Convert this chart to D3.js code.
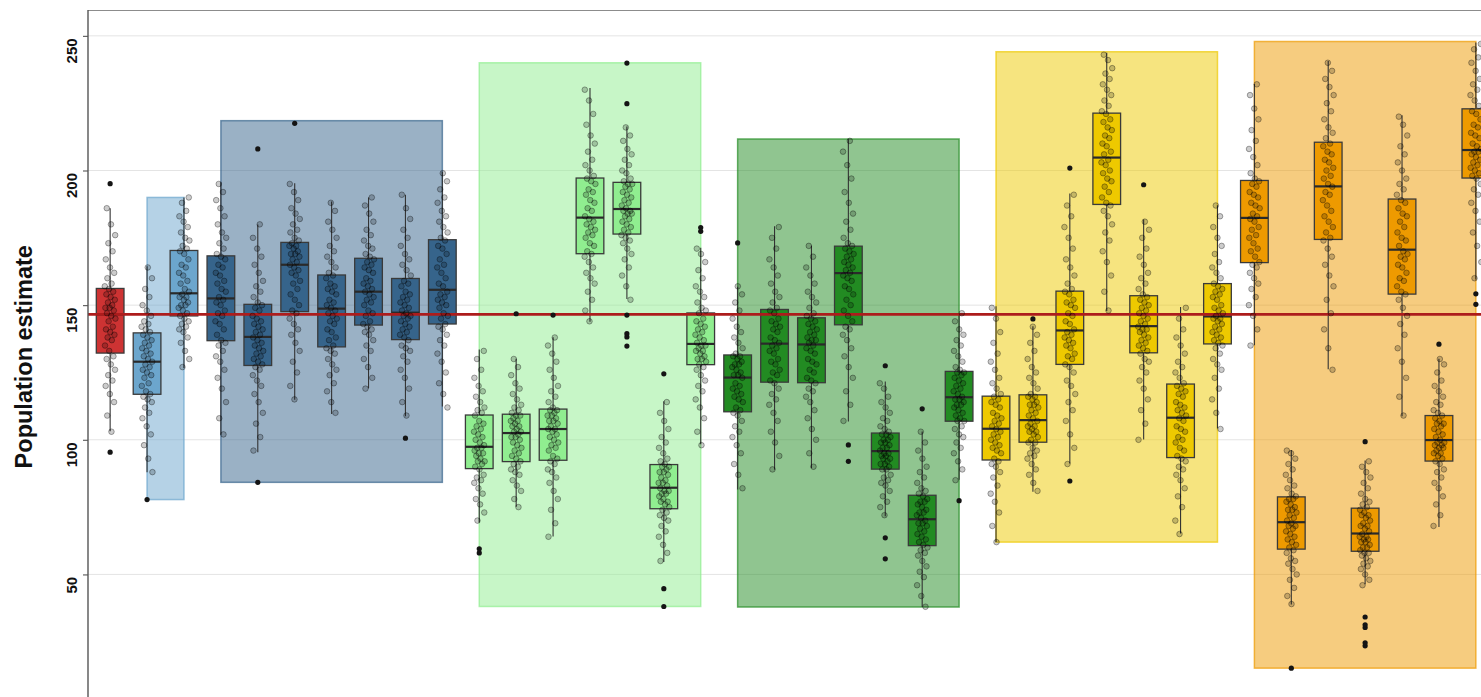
<!DOCTYPE html>
<html>
<head>
<meta charset="utf-8">
<script src="https://cdn.jsdelivr.net/npm/d3@7"></script>
<style>
  html, body { margin: 0; padding: 0; background: #fff; overflow: hidden; }
  svg { display: block; }
</style>
</head>
<body>
<svg id="chart" width="1481" height="697"></svg>
<script>
// ---- data -----------------------------------------------------------------
const categories = [
  "R",
  "LB1", "LB2",
  "DB1", "DB2", "DB3", "DB4", "DB5", "DB6", "DB7",
  "LG1", "LG2", "LG3", "LG4", "LG5", "LG6", "LG7",
  "DG1", "DG2", "DG3", "DG4", "DG5", "DG6", "DG7",
  "Y1", "Y2", "Y3", "Y4", "Y5", "Y6", "Y7",
  "O1", "O2", "O3", "O4", "O5", "O6", "O7"
];
const categoryGroup = [
  "ref",
  "lb", "lb",
  "db", "db", "db", "db", "db", "db", "db",
  "lg", "lg", "lg", "lg", "lg", "lg", "lg",
  "dg", "dg", "dg", "dg", "dg", "dg", "dg",
  "yl", "yl", "yl", "yl", "yl", "yl", "yl",
  "or", "or", "or", "or", "or", "or", "or"
];

// box statistics per category
const whiskerLow  = [103.2, 87.9, 126.7, 101.9, 95.4, 114.9, 109.6, 119.1, 108.7, 112.4,
                     69.3, 75.1, 64.1, 143.8, 152.3, 54.6, 98.3,
                     81.5, 88.9, 89.5, 106.8, 71.6, 37.9, 85.2,
                     62.0, 80.7, 91.2, 147.8, 100.1, 65.2, 104.2,
                     135.1, 38.8, 126.2, 46.4, 108.7, 67.6, 159.5];
const quartile1   = [132.2, 116.9, 146.0, 136.8, 127.6, 147.6, 134.5, 142.6, 137.2, 143.0,
                     89.3, 91.9, 92.4, 169.1, 176.4, 74.4, 127.9,
                     110.4, 121.4, 121.2, 142.7, 89.1, 60.7, 106.9,
                     92.5, 99.1, 128.0, 187.4, 132.3, 93.4, 135.6,
                     165.8, 59.4, 174.4, 58.6, 154.1, 92.1, 197.2];
const medians     = [146.6, 129.0, 154.4, 152.5, 138.2, 165.0, 148.7, 155.0, 147.2, 155.7,
                     97.4, 102.5, 104.0, 182.5, 185.7, 82.2, 135.6,
                     123.1, 135.7, 135.4, 161.9, 95.8, 70.5, 115.8,
                     104.1, 107.3, 140.6, 204.8, 142.2, 108.2, 145.8,
                     182.4, 69.4, 194.1, 65.2, 170.6, 99.9, 207.6];
const quartile3   = [156.2, 139.7, 170.3, 168.3, 150.3, 173.3, 161.2, 167.4, 159.9, 174.3,
                     109.2, 109.5, 111.4, 197.2, 195.6, 90.8, 147.1,
                     131.5, 148.4, 145.3, 171.9, 102.5, 79.4, 125.4,
                     116.2, 116.7, 155.2, 221.3, 153.5, 120.7, 158.0,
                     196.3, 78.8, 210.5, 74.6, 189.4, 109.0, 222.9];
const whiskerHigh = [186.0, 164.4, 190.0, 195.6, 179.9, 195.3, 188.5, 190.0, 191.0, 199.5,
                     133.5, 130.1, 138.1, 230.6, 216.3, 114.3, 171.3,
                     156.8, 179.3, 172.1, 211.7, 121.6, 103.1, 146.9,
                     149.6, 142.2, 191.5, 243.7, 181.8, 149.3, 187.1,
                     232.1, 96.2, 240.7, 92.3, 220.5, 130.1, 247.5];
const outliers = [
  [95.4, 195.1],
  [77.8], [],
  [], [84.2, 208.0], [217.5], [], [], [100.6], [],
  [58.0, 59.5], [146.8], [146.3], [], [134.8, 138.2, 139.4, 146.3, 224.8, 239.9], [38.1, 44.7, 124.5], [177.4, 178.8],
  [173.1], [], [], [92.0, 98.1], [55.8, 63.6, 127.5], [111.5], [77.4],
  [], [144.9], [84.7, 200.9], [], [194.7], [], [],
  [], [15.2], [], [23.5, 24.6, 30.3, 31.3, 34.2, 99.3], [], [135.5], [150.3, 154.2]
];

// individual estimates per category
const observations = [
  [103,109,114,117,120,122,124,126,128,130,131,133,135,137,138,139,140,141,142,144,145,146,147,148,149,149,150,151,152,153,154,155,156,157,158,160,162,164,167,170,173,176,180,186],
  [88,93,98,102,105,108,110,112,114,115,116,117,118,120,121,123,124,125,126,127,128,129,130,131,132,133,134,135,136,137,138,139,140,141,142,143,144,146,148,150,153,156,160,164],
  [127,130,133,136,138,140,141,142,143,144,145,146,147,148,149,150,150,151,152,153,153,154,155,156,158,159,161,162,164,165,167,169,170,171,172,174,175,177,179,181,183,185,188,190],
  [102,108,114,119,123,126,129,131,133,135,136,137,139,141,143,144,146,147,148,150,151,152,153,155,156,158,159,161,162,164,165,167,168,169,171,173,175,177,180,183,186,189,192,195],
  [96,101,106,110,114,117,120,122,124,126,127,128,129,130,131,132,133,134,135,136,137,138,139,140,141,142,143,144,145,146,148,149,150,151,153,155,157,159,162,165,168,171,175,180],
  [115,120,125,129,133,136,139,141,143,145,147,148,150,152,154,156,158,159,161,162,163,164,165,166,167,168,169,169,170,171,172,172,173,174,175,177,178,180,182,184,186,189,192,195],
  [110,114,118,121,124,126,128,130,132,133,134,135,137,138,140,141,143,144,145,146,147,148,149,150,151,152,154,155,156,157,158,160,161,162,164,166,168,170,172,175,178,181,185,188],
  [119,123,127,130,133,135,137,139,140,141,142,143,144,146,147,148,150,151,152,153,154,155,156,157,158,159,160,162,163,164,165,166,167,168,169,171,172,174,176,178,181,184,187,190],
  [109,114,119,123,126,129,131,133,134,135,137,138,139,140,141,142,143,144,145,146,146,147,148,149,150,151,152,153,154,155,157,158,159,161,163,165,167,169,172,175,178,182,186,191],
  [112,117,121,125,129,132,135,137,139,141,142,143,145,146,147,149,150,151,152,153,154,155,157,158,160,162,164,165,167,169,171,172,174,175,177,179,181,183,185,188,190,193,196,199],
  [70,73,76,78,80,82,84,85,86,87,89,90,91,92,92,93,94,95,95,96,97,97,98,99,100,101,102,103,104,105,106,107,109,110,111,112,114,116,118,120,123,126,130,133],
  [75,78,81,83,85,87,88,89,90,91,92,93,94,95,96,97,98,99,100,101,101,102,103,103,104,105,105,106,107,107,108,109,109,110,111,112,113,115,117,119,121,124,127,130],
  [64,69,74,78,81,84,86,88,89,91,92,93,94,96,97,98,99,100,101,102,103,104,104,105,106,107,107,108,109,109,110,111,111,112,114,116,118,120,123,126,129,132,135,138],
  [144,148,152,155,158,160,162,164,166,168,169,170,172,173,175,176,177,178,179,180,181,182,183,185,186,188,189,191,192,193,195,196,197,198,200,202,204,207,210,213,217,221,226,230],
  [152,157,161,164,167,169,171,173,174,175,176,177,178,179,180,181,182,183,184,184,185,185,186,187,188,189,190,191,192,193,194,195,195,196,197,199,200,202,204,206,208,211,213,216],
  [55,58,61,64,66,68,70,71,72,73,74,75,76,77,77,78,79,80,80,81,81,82,83,84,84,85,86,87,88,88,89,90,90,91,92,93,95,97,99,101,104,107,110,114],
  [98,103,108,112,115,118,120,122,124,126,127,128,129,130,130,131,132,133,133,134,135,135,136,137,138,139,140,141,142,143,144,145,147,148,149,151,153,155,157,160,163,166,169,171],
  [82,87,91,95,98,101,103,105,107,109,110,111,112,114,115,116,117,118,119,120,121,123,124,124,125,126,127,128,128,129,130,131,131,132,134,136,138,140,142,145,148,151,154,157],
  [89,94,99,103,107,110,113,115,117,119,121,122,124,125,126,128,129,130,132,133,134,135,136,137,138,140,141,142,143,144,145,147,148,149,151,153,155,158,161,164,167,171,175,179],
  [90,95,100,104,108,111,114,116,118,119,121,122,123,125,126,128,129,130,132,133,134,135,136,137,137,138,139,140,141,142,143,144,145,146,147,149,151,153,155,158,161,164,168,172],
  [107,113,118,123,127,131,134,137,139,141,142,144,146,148,150,152,154,156,157,159,160,161,162,163,164,165,166,167,168,169,170,171,172,173,175,178,181,184,188,192,197,202,207,211],
  [72,75,77,79,81,83,84,85,86,87,89,89,90,91,91,92,93,93,94,94,95,95,96,97,97,98,99,99,100,100,101,102,102,103,104,105,107,108,110,112,114,116,119,121],
  [38,42,46,49,51,53,55,57,58,59,60,61,62,63,64,65,66,67,68,69,69,70,71,72,73,73,74,75,76,77,77,78,79,80,81,82,84,86,88,90,93,96,99,103],
  [85,89,92,95,97,99,101,102,104,105,107,107,108,109,110,111,112,113,113,114,115,115,116,117,118,119,120,121,122,123,124,125,125,126,127,129,131,133,135,137,139,141,144,147],
  [62,68,73,77,80,83,86,88,90,91,92,93,95,96,97,98,99,100,101,102,103,104,105,106,107,108,109,110,112,113,114,115,116,117,119,121,123,126,129,132,136,140,145,149],
  [81,84,87,89,91,93,94,95,96,97,99,99,100,101,102,103,103,104,105,105,106,107,108,109,110,111,112,113,113,114,115,116,116,117,119,121,123,125,127,130,133,136,139,142],
  [91,97,102,107,111,114,117,120,122,125,127,128,130,131,132,134,135,136,137,138,139,140,141,143,144,146,147,149,150,151,152,154,155,156,158,161,164,167,171,175,179,183,187,191],
  [148,155,161,166,170,174,177,180,183,185,187,188,190,192,194,196,197,199,200,202,203,204,206,207,209,210,212,213,215,216,218,219,221,222,224,226,228,230,232,234,236,238,241,243],
  [100,106,111,115,119,122,125,127,129,130,132,133,134,135,136,137,138,139,140,141,141,142,143,144,145,146,147,148,149,150,151,152,153,154,156,158,160,162,165,168,171,175,178,181],
  [65,70,75,79,82,85,87,89,90,92,93,94,96,97,99,100,101,103,104,105,107,108,109,110,111,112,113,114,116,117,118,119,120,121,123,125,127,129,132,135,138,141,145,149],
  [104,110,115,119,123,126,128,130,132,134,135,136,137,138,139,140,141,142,143,144,145,145,146,147,148,149,150,152,153,154,155,156,157,158,160,162,164,166,169,172,175,179,183,187],
  [135,141,146,150,153,156,158,160,162,164,165,166,168,170,171,173,175,176,178,179,181,182,183,184,186,187,188,190,191,192,194,195,196,197,199,202,205,208,211,215,219,223,228,232],
  [39,42,45,48,50,52,54,55,56,58,59,60,61,62,63,64,65,66,67,68,68,69,70,71,72,73,74,74,75,76,77,78,78,79,80,82,83,85,87,89,91,93,95,96],
  [126,134,141,147,152,157,161,165,168,171,174,175,177,179,181,183,185,187,189,191,192,194,195,197,198,200,201,203,204,206,207,209,210,212,214,216,219,222,225,228,231,234,237,240],
  [46,48,50,52,53,54,55,56,57,58,58,59,60,60,61,62,62,63,63,64,64,65,66,67,68,68,69,70,71,72,72,73,74,75,76,77,78,80,82,84,86,88,90,92],
  [109,116,123,129,134,139,143,146,149,152,154,155,157,159,160,162,164,165,167,168,169,170,172,174,175,177,179,181,183,184,186,188,189,191,193,195,197,200,203,206,209,213,217,220],
  [68,72,76,79,82,84,86,88,89,91,92,93,94,95,95,96,97,97,98,98,99,99,100,101,102,103,104,105,106,106,107,108,109,110,111,113,114,116,118,120,122,125,128,130],
  [160,166,172,177,181,185,188,191,193,195,197,198,199,200,201,202,203,204,205,206,207,207,208,209,210,212,213,214,216,217,219,221,222,224,226,228,230,232,234,237,240,242,245,247]
];

// shaded group bands: value range covered by each group
const bandGroups = ["lb", "db", "lg", "dg", "yl", "or"];
const bandLow    = [77.8, 84.2, 38.1, 37.9, 62.0, 15.2];
const bandHigh   = [190.0, 218.5, 240.0, 211.7, 244.1, 247.9];

const groupColor = {
  ref: "#cd3333", lb: "#6ca6cd", db: "#36648b", lg: "#90ee90",
  dg: "#228b22", yl: "#eec900", or: "#ee9a00"
};

const yTicks = [50, 100, 150, 200, 250];
const referenceValue = 146.6;
const yTitle = "Population estimate";

// ---- layout ---------------------------------------------------------------
const W = 1481, H = 697;
const panelLeft = 88, panelRight = 1498, panelTop = 10, panelBottom = 697.5;
const font = "'Liberation Sans', Arial, Helvetica, sans-serif";

const svg = d3.select("#chart");

const x = d3.scalePoint().domain(categories).range([panelLeft, panelRight]).padding(0.6);
const y = d3.scaleLinear().domain([4.3, 259.6]).range([panelBottom, panelTop]);
const boxW = x.step() * 0.75;

svg.append("defs").append("clipPath").attr("id", "panel")
  .append("rect").attr("x", panelLeft).attr("y", panelTop)
  .attr("width", panelRight - panelLeft).attr("height", panelBottom - panelTop);

const panel = svg.append("g").attr("clip-path", "url(#panel)");

// horizontal grid
panel.append("g").selectAll("line").data(yTicks).join("line")
  .attr("x1", panelLeft).attr("x2", panelRight)
  .attr("y1", d => y(d)).attr("y2", d => y(d))
  .attr("stroke", "#e4e4e4").attr("stroke-width", 1);

// group bands spanning first to last member
const bands = bandGroups.map((g, i) => {
  const members = categories.filter((c, j) => categoryGroup[j] === g);
  return { g, x0: x(members[0]), x1: x(members[members.length - 1]), lo: bandLow[i], hi: bandHigh[i] };
});
panel.append("g").selectAll("rect").data(bands).join("rect")
  .attr("x", d => d.x0).attr("width", d => d.x1 - d.x0)
  .attr("y", d => y(d.hi)).attr("height", d => y(d.lo) - y(d.hi))
  .attr("fill", d => groupColor[d.g]).attr("fill-opacity", 0.5)
  .attr("stroke", d => groupColor[d.g]).attr("stroke-opacity", 0.7).attr("stroke-width", 1.5);

// boxplots
const boxData = categories.map((c, i) => ({
  c, i, g: categoryGroup[i], lo: whiskerLow[i], q1: quartile1[i], med: medians[i], q3: quartile3[i], hi: whiskerHigh[i]
}));
const boxes = panel.append("g").selectAll("g").data(boxData).join("g");
boxes.append("line")
  .attr("x1", d => x(d.c)).attr("x2", d => x(d.c))
  .attr("y1", d => y(d.hi)).attr("y2", d => y(d.q3))
  .attr("stroke", "#333").attr("stroke-width", 1.1);
boxes.append("line")
  .attr("x1", d => x(d.c)).attr("x2", d => x(d.c))
  .attr("y1", d => y(d.q1)).attr("y2", d => y(d.lo))
  .attr("stroke", "#333").attr("stroke-width", 1.1);
boxes.append("rect")
  .attr("x", d => x(d.c) - boxW / 2).attr("width", boxW)
  .attr("y", d => y(d.q3)).attr("height", d => y(d.q1) - y(d.q3))
  .attr("fill", d => groupColor[d.g])
  .attr("stroke", "#3a3a3a").attr("stroke-width", 1.3);
boxes.append("line")
  .attr("x1", d => x(d.c) - boxW / 2).attr("x2", d => x(d.c) + boxW / 2)
  .attr("y1", d => y(d.med)).attr("y2", d => y(d.med))
  .attr("stroke", "#2a2a2a").attr("stroke-width", 2.2);

// reference line
panel.append("line")
  .attr("x1", panelLeft).attr("x2", panelRight)
  .attr("y1", y(referenceValue)).attr("y2", y(referenceValue))
  .attr("stroke", "#ad1c1c").attr("stroke-width", 2.7);

// jittered observations (deterministic low-discrepancy horizontal spread)
const jitterHalf = 5.5;
const pts = [];
observations.forEach((vals, i) => {
  vals.forEach((v, k) => {
    const u = ((k + 1) * 0.6180339887 + i * 0.3719) % 1;
    pts.push({ cx: x(categories[i]) + (u - 0.5) * 2 * jitterHalf, v });
  });
});
panel.append("g").selectAll("circle").data(pts).join("circle")
  .attr("cx", d => d.cx).attr("cy", d => y(d.v)).attr("r", 2.8)
  .attr("fill", "rgba(0,0,0,0.2)")
  .attr("stroke", "rgba(0,0,0,0.42)").attr("stroke-width", 0.8);

// outliers
const outPts = [];
outliers.forEach((vals, i) => vals.forEach(v => outPts.push({ c: categories[i], v })));
panel.append("g").selectAll("circle").data(outPts).join("circle")
  .attr("cx", d => x(d.c)).attr("cy", d => y(d.v)).attr("r", 2.6)
  .attr("fill", "#141414");

// panel frame: top border
svg.append("line").attr("x1", panelLeft).attr("x2", W).attr("y1", panelTop + 0.5).attr("y2", panelTop + 0.5)
  .attr("stroke", "#8c8c8c").attr("stroke-width", 1.2);

// y axis
const axis = svg.append("g").attr("transform", `translate(${panelLeft},0)`)
  .call(d3.axisLeft(y).tickValues(yTicks).tickSize(5).tickSizeOuter(0));
axis.select(".domain").remove();
axis.selectAll(".tick line").attr("stroke", "#555").attr("stroke-width", 1.1);
axis.selectAll(".tick text")
  .attr("dy", null)
  .attr("transform", "translate(-11,0) rotate(-90)")
  .attr("x", -2).attr("y", 0)
  .attr("text-anchor", "end")
  .style("font-family", font).style("font-size", "15px").style("font-weight", "bold")
  .attr("fill", "#111");
svg.append("line").attr("x1", panelLeft).attr("x2", panelLeft).attr("y1", panelTop).attr("y2", H)
  .attr("stroke", "#555").attr("stroke-width", 1.4);

// axis title
svg.append("text")
  .attr("transform", `translate(32,${(panelTop + panelBottom) / 2 + 3}) rotate(-90)`)
  .attr("text-anchor", "middle")
  .style("font-family", font).style("font-size", "23.5px").style("font-weight", "bold")
  .attr("fill", "#111")
  .text(yTitle);
</script>
</body>
</html>
